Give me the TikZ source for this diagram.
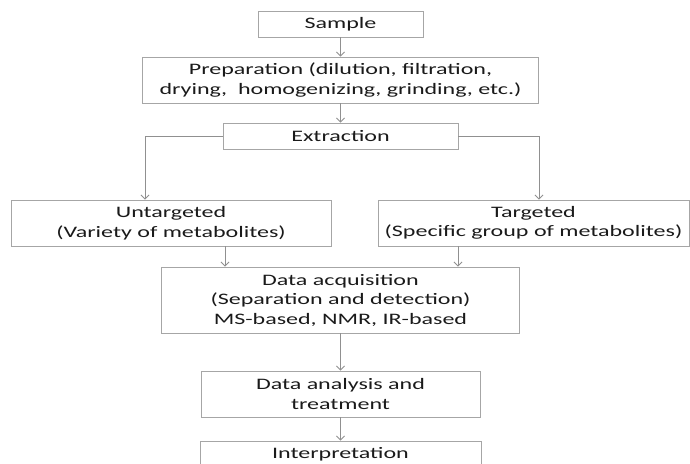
\documentclass[tikz,border=0pt]{standalone}
\usepackage{fontspec}
\setmainfont{Carlito}[FakeStretch=1.5]
\usepackage{tikz}
\usetikzlibrary{arrows,arrows.meta,positioning,shapes,calc}
\definecolor{boxline}{HTML}{A6A6A6}
\definecolor{arrowline}{HTML}{909090}
\definecolor{txt}{HTML}{1A1A1A}
\tikzset{
  stepbox/.style={draw=boxline,line width=0.9pt,text=txt,align=center,inner sep=0pt,
    font=\fontsize{16}{19.5}\selectfont},
  flow/.style={->,draw=arrowline,line width=0.8pt,>={Straight Barb[length=4pt,width=8pt]}}
}

\begin{document}
\begin{tikzpicture}[x=1pt,y=1pt,node distance=56pt,on grid]
   \useasboundingbox (0,0) rectangle (690,-463);
   \clip (0,0) rectangle (690,-463);
   \node [stepbox,minimum width=165pt,minimum height=26pt] (samp) at (340.5,-24) {Sample};
   \node [stepbox,minimum width=396pt,minimum height=46pt] (prep) [below=of samp] {Preparation (dilution, filtration,\\drying,\ \ homogenizing, grinding, etc.)};
   \node [stepbox,minimum width=235pt,minimum height=26pt] (extr) [below=of prep] {Extraction};
   \node [stepbox,minimum width=320pt,minimum height=46pt] (untg) [below left=87pt and 169.5pt of extr] {Untargeted\\(Variety of metabolites)};
   \node [stepbox,minimum width=311pt,minimum height=46pt] (targ) [below right=87pt and 193pt of extr] {Targeted\\(Specific group of metabolites)};
   \node [stepbox,minimum width=358pt,minimum height=66pt] (acq) [below=164pt of extr] {Data acquisition\\(Separation and detection)\\MS-based, NMR, IR-based};
   \node [stepbox,minimum width=279pt,minimum height=46pt] (ana) [below=94pt of acq] {Data analysis and\\treatment};
   \node [stepbox,minimum width=281pt,minimum height=26pt] (intp) [below=60pt of ana] {Interpretation};
   \coordinate (u1) at ([xshift=-26pt]untg.north);
   \coordinate (t1) at ([xshift=5.5pt]targ.north);
   \coordinate (u2) at ([xshift=54pt]untg.south);
   \coordinate (t2) at ([xshift=-75.5pt]targ.south);
    \path[flow]
    (samp) edge (prep)
    (prep) edge (extr)
    (acq) edge (ana)
    (ana) edge (intp);
   \draw[flow] (extr.west) -| (u1);
   \draw[flow] (extr.east) -| (t1);
   \draw[flow] (u2) -- (u2 |- acq.north);
   \draw[flow] (t2) -- (t2 |- acq.north);
\end{tikzpicture}
\end{document}
